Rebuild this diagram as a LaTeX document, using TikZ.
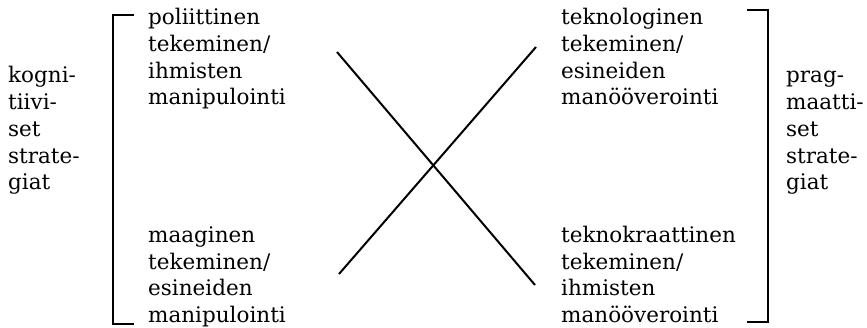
\documentclass[tikz,border=0pt]{standalone}
\usepackage{fontspec}
\setmainfont{DejaVu Serif}
\begin{document}
\begin{tikzpicture}[x=1pt,y=-1pt,
  txt/.style={inner sep=0pt,anchor=base west,font=\fontsize{21.5}{26}\selectfont},
  brk/.style={line width=2.6pt,line cap=butt,line join=miter},
  xline/.style={line width=2pt}]
\useasboundingbox (0,0) rectangle (867,328);
% left column, upper block
\foreach \t [count=\i] in {poliittinen,tekeminen/,ihmisten,manipulointi}
  \node[txt] (lu\i) at (148,{25+26.6*(\i-1)}) {\t};
% left column, lower block
\foreach \t [count=\i] in {maaginen,tekeminen/,esineiden,manipulointi}
  \node[txt] (ll\i) at (148,{243+26.4*(\i-1)}) {\t};
% right column, upper block
\foreach \t [count=\i] in {teknologinen,tekeminen/,esineiden,manööverointi}
  \node[txt] (ru\i) at (561,{25+26.6*(\i-1)}) {\t};
% right column, lower block
\foreach \t [count=\i] in {teknokraattinen,tekeminen/,ihmisten,manööverointi}
  \node[txt] (rl\i) at (561,{243+26.4*(\i-1)}) {\t};
% side labels
\foreach \t [count=\i] in {kogni-,tiivi-,set,strate-,giat}
  \node[txt] (kl\i) at (8,{83+26.7*(\i-1)}) {\t};
\foreach \t [count=\i] in {prag-,maatti-,set,strate-,giat}
  \node[txt] (pl\i) at (786,{83+26.7*(\i-1)}) {\t};
% brackets
\coordinate (lbt) at (134,15);
\coordinate (lbb) at (134,324);
\draw[brk] (lbt) -- (113,15) -- (113,324) -- (lbb);
\coordinate (rbt) at (747,10);
\coordinate (rbb) at (747,322);
\draw[brk] (rbt) -- (768,10) -- (768,322) -- (rbb);
% cross
\coordinate (a1) at (337,52);
\coordinate (a2) at (535,285);
\coordinate (b1) at (339,274);
\coordinate (b2) at (536,47);
\draw[xline] (a1) -- (a2);
\draw[xline] (b1) -- (b2);
\end{tikzpicture}
\end{document}
